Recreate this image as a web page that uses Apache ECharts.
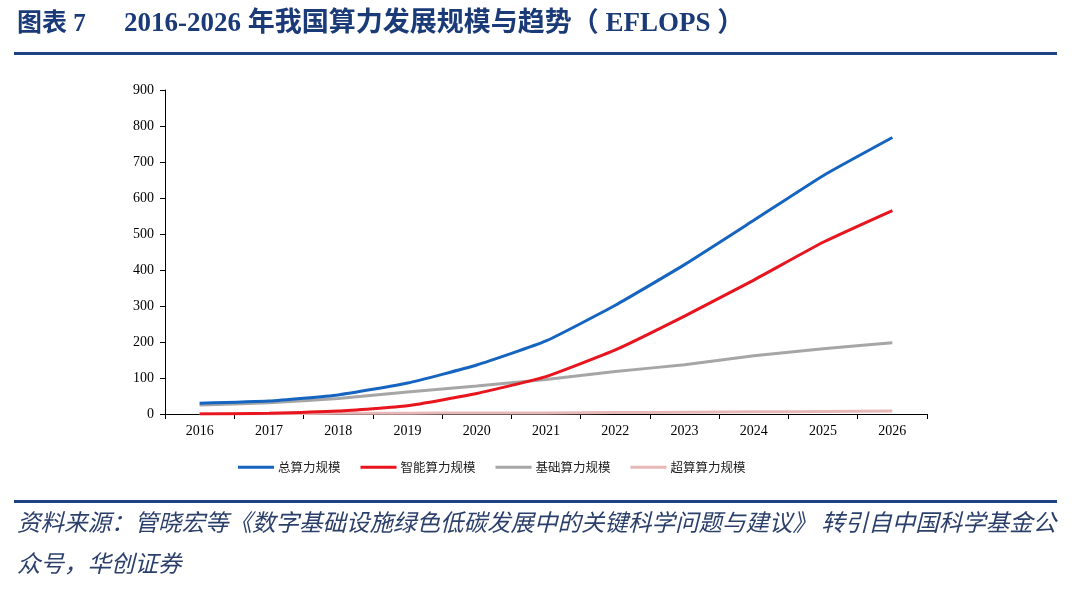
<!DOCTYPE html>
<html>
<head>
<meta charset="utf-8">
<script src="https://cdn.jsdelivr.net/npm/echarts@6/dist/echarts.min.js"></script>
<style>
html,body{margin:0;padding:0;background:#fff;}
#main{width:1080px;height:603px;}
</style>
</head>
<body>
<div id="main"></div>
<script>
const years = ['2016','2017','2018','2019','2020','2021','2022','2023','2024','2025','2026'];
const totalCompute = [30, 36, 53, 86, 136, 203, 302, 415, 538, 662, 768];
const aiCompute    = [0, 2, 8, 23, 57, 104, 178, 272, 372, 477, 565];
const basicCompute = [25, 31, 43, 61, 78, 96, 118, 137, 162, 181, 198];
const superCompute = [1, 1, 2, 2, 3, 3, 4, 5, 6, 7, 8];
const yTicks = [0, 100, 200, 300, 400, 500, 600, 700, 800, 900];
const seriesNames = ['总算力规模', '智能算力规模', '基础算力规模', '超算算力规模'];

const chart = echarts.init(document.getElementById('main'));
const serif = '"Liberation Serif", "Times New Roman", serif';
const cjk = '"Liberation Serif", "Noto Sans CJK SC", serif';
const colors = ['#1565c0', '#e8141e', '#a6a6a6', '#e6b8b7'];
const datas = [totalCompute, aiCompute, basicCompute, superCompute];

chart.setOption({
  animation: false,
  backgroundColor: '#fff',
  grid: { left: 165, right: 153, top: 90, bottom: 189, containLabel: false },
  legend: {
    data: seriesNames,
    top: 456,
    left: 233,
    itemWidth: 36,
    itemHeight: 3,
    itemGap: 20,
    icon: 'rect',
    textStyle: { fontFamily: '"Noto Sans CJK SC"', fontSize: 12.5, color: '#222', padding: [0, 0, 0, -1] }
  },
  xAxis: {
    type: 'category',
    data: years,
    boundaryGap: true,
    axisLine: { lineStyle: { color: '#000', width: 1 } },
    axisTick: { show: true, length: 5, lineStyle: { color: '#000' }, alignWithLabel: false },
    axisLabel: { fontFamily: serif, fontSize: 14, color: '#000', margin: 10 }
  },
  yAxis: {
    type: 'value',
    min: 0, max: 900, interval: 100,
    splitLine: { show: false },
    axisLine: { show: true, lineStyle: { color: '#000', width: 1 } },
    axisTick: { show: true, length: 5, inside: false, lineStyle: { color: '#000' } },
    axisLabel: { fontFamily: serif, fontSize: 14, color: '#000', margin: 11,
      formatter: v => yTicks.includes(v) ? String(v) : '' }
  },
  series: seriesNames.map((n, i) => ({
    name: n,
    type: 'line',
    data: datas[i],
    smooth: 0.15,
    symbol: 'none',
    lineStyle: { color: colors[i], width: 3 },
    itemStyle: { color: colors[i] },
    z: 10 - i
  })),
  graphic: [
    { type: 'text', left: 17, top: 12,
      style: { text: '图表 7',
        font: 'bold 25px ' + cjk, fill: '#1a3a78' } },
    { type: 'text', left: 124, top: 11,
      style: { text: '2016-2026 年我国算力发展规模与趋势（ EFLOPS ）',
        font: 'bold 27px ' + cjk, fill: '#1a3a78' } },
    { type: 'rect', shape: { x: 14, y: 52, width: 1043, height: 3 }, style: { fill: '#1d4385' } },
    { type: 'rect', shape: { x: 14, y: 500, width: 1043, height: 3 }, style: { fill: '#1d4385' } },
    { type: 'text', left: 17, top: 510,
      style: { text: '资料来源：管晓宏等《数字基础设施绿色低碳发展中的关键科学问题与建议》 转引自中国科学基金公',
        font: 'italic 23.5px "Noto Sans CJK SC"', fill: '#2b3f6b' } },
    { type: 'text', left: 17, top: 551,
      style: { text: '众号，华创证券',
        font: 'italic 23.5px "Noto Sans CJK SC"', fill: '#2b3f6b' } }
  ]
});
</script>
</body>
</html>
